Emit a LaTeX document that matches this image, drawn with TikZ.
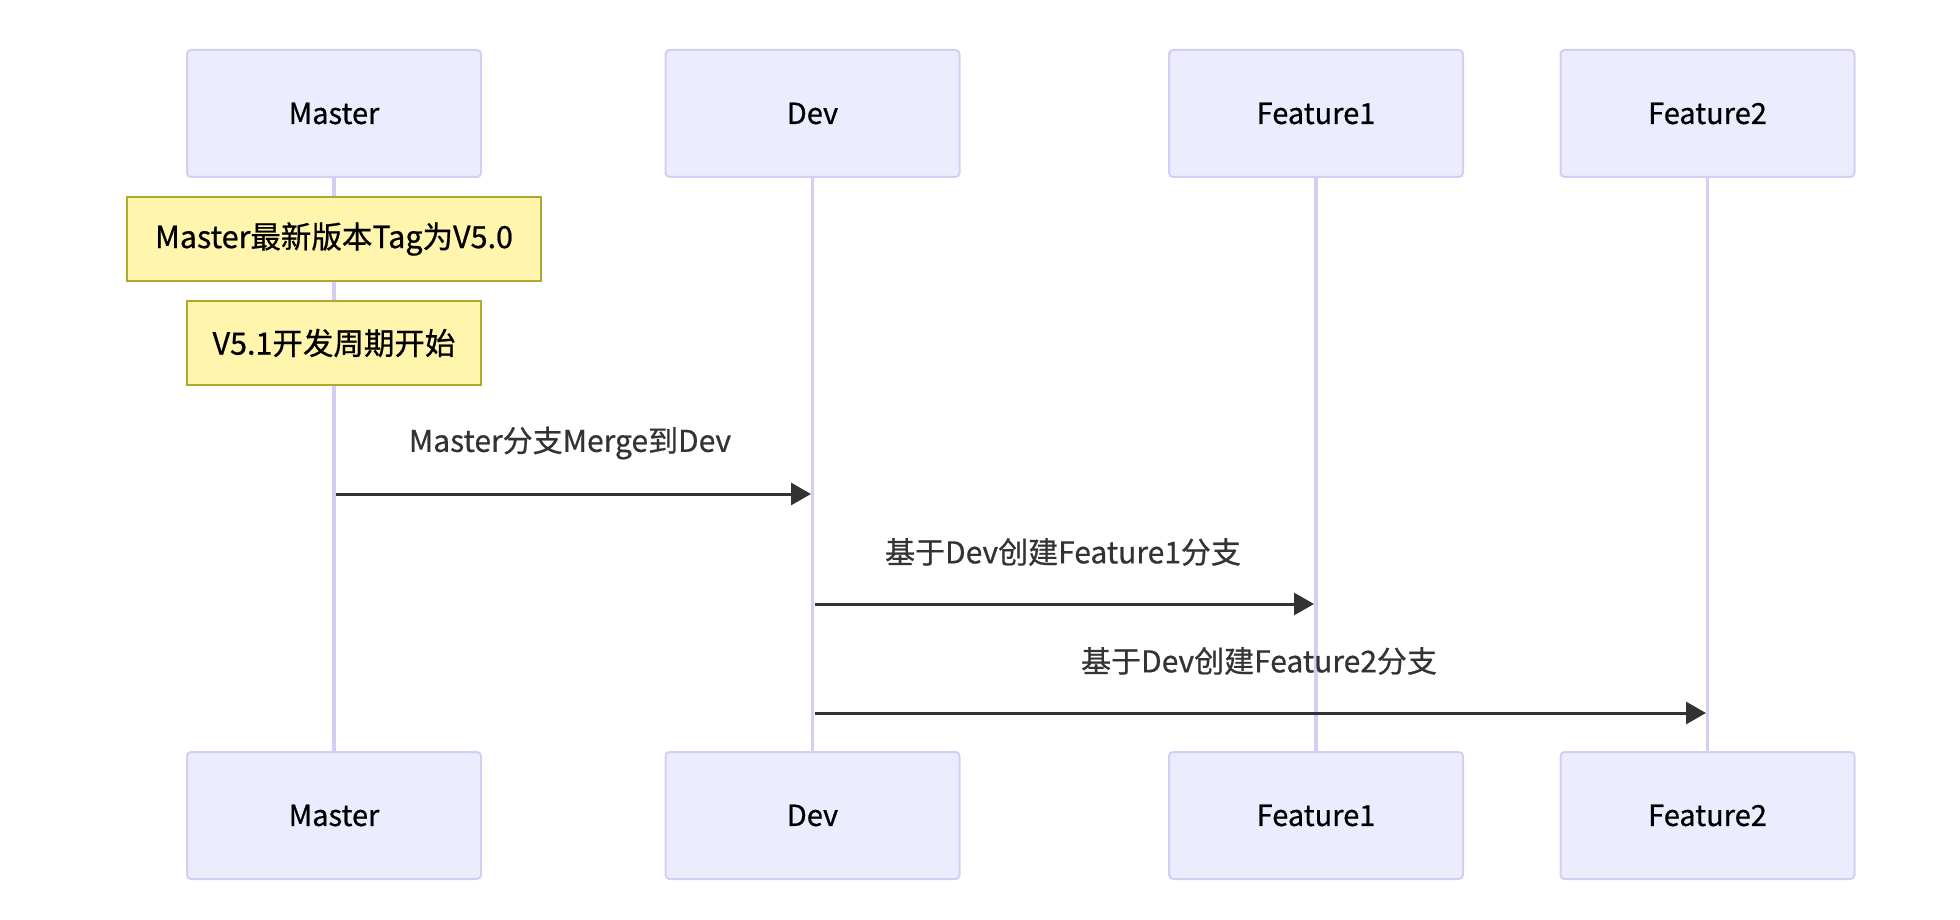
\documentclass[tikz,border=0pt]{standalone}
\usepackage{fontspec}
\setmainfont{Noto Sans CJK SC}[FakeBold=0.7]
\usetikzlibrary{arrows.meta}
\definecolor{actfill}{HTML}{ECECFF}
\definecolor{actline}{HTML}{D6CCF4}
\definecolor{notefill}{HTML}{FFF5AD}
\definecolor{noteline}{HTML}{AAAA33}
\definecolor{msg}{HTML}{333333}
\tikzset{
  actor/.style={draw=actline, fill=actfill, line width=2pt, rounded corners=4pt,
    minimum width=294pt, minimum height=127pt, inner sep=0pt,
    font=\fontsize{29}{34}\selectfont, text=black},
  note/.style={draw=noteline, fill=notefill, line width=2pt,
    minimum height=84pt, inner sep=0pt,
    font=\fontsize{30.5}{35}\selectfont, text=black},
  lifeline/.style={draw=actline, line width=3.5pt},
  msgline/.style={draw=msg, line width=3pt, -{Triangle[length=20pt,width=22pt]}},
  msglabel/.style={font=\fontsize{30}{35}\selectfont, text=msg, inner sep=0pt}
}
\begin{document}
\begin{tikzpicture}[x=1pt,y=-1pt]
\useasboundingbox (0,0) rectangle (1960,920);
% top actors
\node[actor] (mt) at (334,113.5) {Master};
\node[actor] (dt) at (812.5,113.5) {Dev};
\node[actor] (f1t) at (1316,113.5) {Feature1};
\node[actor] (f2t) at (1707.5,113.5) {Feature2};
% bottom actor anchors for lifelines
\coordinate (mbn) at (334,752);
\coordinate (dbn) at (812.5,752);
\coordinate (f1bn) at (1316,752);
\coordinate (f2bn) at (1707.5,752);
% lifelines
\draw[lifeline] (mt.south) -- (mbn);
\draw[lifeline] (dt.south) -- (dbn);
\draw[lifeline] (f1t.south) -- (f1bn);
\draw[lifeline] (f2t.south) -- (f2bn);
% bottom actors
\node[actor] (mb) at (334,815.5) {Master};
\node[actor] (db) at (812.5,815.5) {Dev};
\node[actor] (f1b) at (1316,815.5) {Feature1};
\node[actor] (f2b) at (1707.5,815.5) {Feature2};
% notes
\node[note, minimum width=414pt] (n1) at (334,239) {Master最新版本Tag为V5.0};
\node[note, minimum width=294pt] (n2) at (334,343) {V5.1开发周期开始};
% messages
\coordinate (a1s) at (336,494);
\coordinate (a1e) at (811,494);
\coordinate (a2s) at (815,604);
\coordinate (a2e) at (1314,604);
\coordinate (a3s) at (815,713);
\coordinate (a3e) at (1706,713);
\draw[msgline] (a1s) -- (a1e);
\draw[msgline] (a2s) -- (a2e);
\draw[msgline] (a3s) -- (a3e);
\node[msglabel] (l1) at (570,443) {Master分支Merge到Dev};
\node[msglabel] (l2) at (1063,552) {基于Dev创建Feature1分支};
\node[msglabel] (l3) at (1259,661) {基于Dev创建Feature2分支};
\end{tikzpicture}
\end{document}
